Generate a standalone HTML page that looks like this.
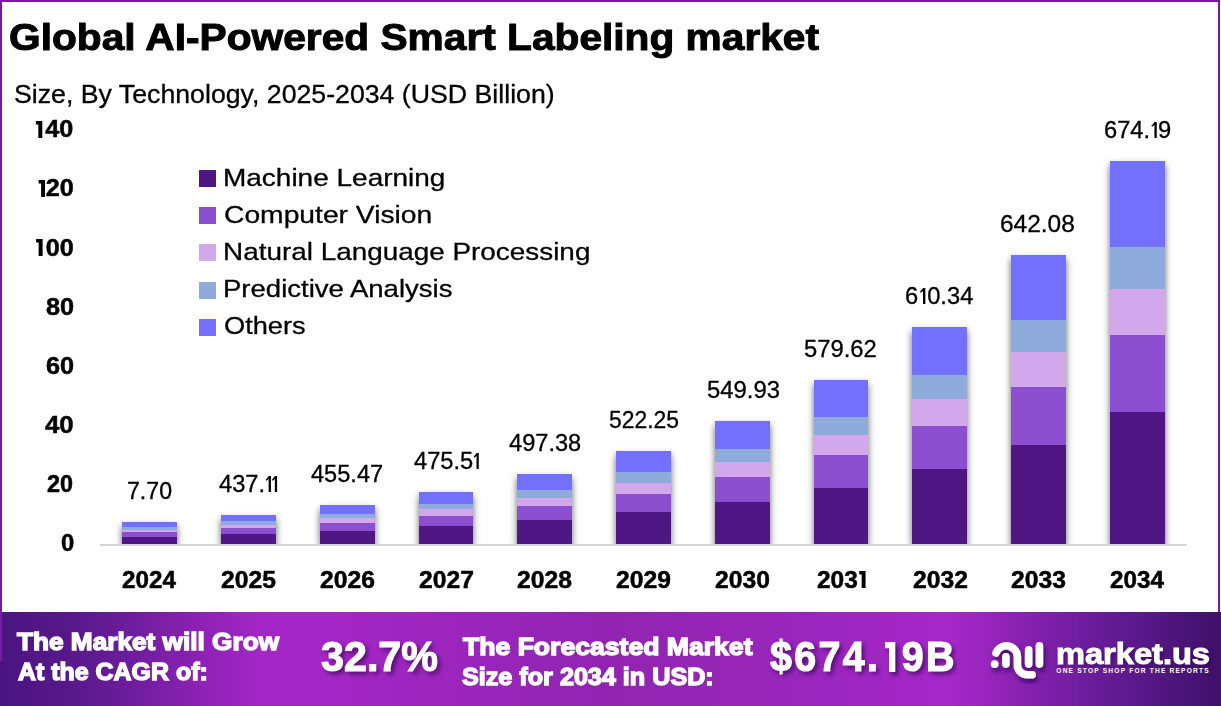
<!DOCTYPE html>
<html><head><meta charset="utf-8">
<style>
html,body{margin:0;padding:0;}
body{width:1221px;height:706px;position:relative;overflow:hidden;background:#fff;font-family:"Liberation Sans",sans-serif;}
#txt div{position:absolute;line-height:1;white-space:nowrap;transform-origin:0 0;}
#txt svg.one{display:inline-block;}
.frame{position:absolute;left:0;top:0;width:1220px;height:706px;box-sizing:border-box;border:2px solid #7A18A2;}
.fl{position:absolute;left:0;top:612px;width:2px;height:49px;background:#7A1AA8;}
.plot{position:absolute;left:0;top:0;width:1221px;height:544px;overflow:hidden;}
.axis{position:absolute;left:100px;top:544px;width:1087px;height:2px;background:#D4D4D4;}
.bar{position:absolute;width:55px;box-shadow:0 4px 7px rgba(0,0,0,0.6);}
.bar i{position:absolute;left:0;right:0;display:block;}
.banner{position:absolute;left:0;top:612px;width:1221px;height:94px;
 background:linear-gradient(90deg,#4A1580 0px,#561888 65px,#6C1D9C 130px,#8A22B2 195px,#A326C6 260px,#A526C6 330px,#9E26C0 400px,#9A25BC 469px,#9525B6 538px,#9024B0 606px,#9425B4 675px,#9826B8 744px,#9A26BE 813px,#A126C4 886px,#A628C8 951px,#8A22B2 1017px,#6E1D9E 1083px,#561886 1148px,#3E1068 1221px);}
#txt .big{text-shadow:3px 3px 5px rgba(40,0,70,0.75);}
#txt .big svg{filter:drop-shadow(3px 3px 2.5px rgba(40,0,70,0.75));}
#txt .logo{text-shadow:2px 3px 4px rgba(40,0,70,0.6);}
</style></head><body>
<div class="frame"></div>
<div class="plot">
<div class="bar" style="left:122px;width:55px;top:522px;height:22px"><i style="top:0px;height:5px;background:#7370FE"></i><i style="top:5px;height:3px;background:#8EABDC"></i><i style="top:8px;height:2px;background:#D3A7EC"></i><i style="top:10px;height:5px;background:#8B4FCF"></i><i style="top:15px;height:7px;background:#4E1784"></i></div><div class="bar" style="left:221px;width:55px;top:515px;height:29px"><i style="top:0px;height:6px;background:#7370FE"></i><i style="top:6px;height:4px;background:#8EABDC"></i><i style="top:10px;height:3px;background:#D3A7EC"></i><i style="top:13px;height:6px;background:#8B4FCF"></i><i style="top:19px;height:10px;background:#4E1784"></i></div><div class="bar" style="left:320px;width:55px;top:505px;height:39px"><i style="top:0px;height:9px;background:#7370FE"></i><i style="top:9px;height:4px;background:#8EABDC"></i><i style="top:13px;height:5px;background:#D3A7EC"></i><i style="top:18px;height:8px;background:#8B4FCF"></i><i style="top:26px;height:13px;background:#4E1784"></i></div><div class="bar" style="left:419px;width:54px;top:492px;height:52px"><i style="top:0px;height:12px;background:#7370FE"></i><i style="top:12px;height:5px;background:#8EABDC"></i><i style="top:17px;height:7px;background:#D3A7EC"></i><i style="top:24px;height:10px;background:#8B4FCF"></i><i style="top:34px;height:18px;background:#4E1784"></i></div><div class="bar" style="left:517px;width:55px;top:474px;height:70px"><i style="top:0px;height:16px;background:#7370FE"></i><i style="top:16px;height:8px;background:#8EABDC"></i><i style="top:24px;height:8px;background:#D3A7EC"></i><i style="top:32px;height:14px;background:#8B4FCF"></i><i style="top:46px;height:24px;background:#4E1784"></i></div><div class="bar" style="left:616px;width:55px;top:451px;height:93px"><i style="top:0px;height:21px;background:#7370FE"></i><i style="top:21px;height:11px;background:#8EABDC"></i><i style="top:32px;height:11px;background:#D3A7EC"></i><i style="top:43px;height:18px;background:#8B4FCF"></i><i style="top:61px;height:32px;background:#4E1784"></i></div><div class="bar" style="left:715px;width:55px;top:421px;height:123px"><i style="top:0px;height:28px;background:#7370FE"></i><i style="top:28px;height:13px;background:#8EABDC"></i><i style="top:41px;height:15px;background:#D3A7EC"></i><i style="top:56px;height:25px;background:#8B4FCF"></i><i style="top:81px;height:42px;background:#4E1784"></i></div><div class="bar" style="left:814px;width:54px;top:380px;height:164px"><i style="top:0px;height:37px;background:#7370FE"></i><i style="top:37px;height:18px;background:#8EABDC"></i><i style="top:55px;height:20px;background:#D3A7EC"></i><i style="top:75px;height:33px;background:#8B4FCF"></i><i style="top:108px;height:56px;background:#4E1784"></i></div><div class="bar" style="left:912px;width:55px;top:327px;height:217px"><i style="top:0px;height:48px;background:#7370FE"></i><i style="top:48px;height:24px;background:#8EABDC"></i><i style="top:72px;height:27px;background:#D3A7EC"></i><i style="top:99px;height:43px;background:#8B4FCF"></i><i style="top:142px;height:75px;background:#4E1784"></i></div><div class="bar" style="left:1011px;width:55px;top:255px;height:289px"><i style="top:0px;height:65px;background:#7370FE"></i><i style="top:65px;height:32px;background:#8EABDC"></i><i style="top:97px;height:35px;background:#D3A7EC"></i><i style="top:132px;height:58px;background:#8B4FCF"></i><i style="top:190px;height:99px;background:#4E1784"></i></div><div class="bar" style="left:1110px;width:55px;top:161px;height:383px"><i style="top:0px;height:86px;background:#7370FE"></i><i style="top:86px;height:42px;background:#8EABDC"></i><i style="top:128px;height:46px;background:#D3A7EC"></i><i style="top:174px;height:77px;background:#8B4FCF"></i><i style="top:251px;height:132px;background:#4E1784"></i></div>
</div>
<div class="axis"></div>
<div style="position:absolute;left:199px;top:170px;width:17px;height:17px;background:#4E1784"></div><div style="position:absolute;left:199px;top:207px;width:17px;height:17px;background:#8B4FCF"></div><div style="position:absolute;left:199px;top:244.2px;width:17px;height:17px;background:#D3A7EC"></div><div style="position:absolute;left:199px;top:282px;width:17px;height:17px;background:#8EABDC"></div><div style="position:absolute;left:199px;top:319.1px;width:17px;height:17px;background:#7370FE"></div>
<div class="banner"></div>
<div class="fl"></div>
<svg style="position:absolute;left:0;top:0" width="1221" height="706">
 <defs><filter id="sh" x="-30%" y="-30%" width="160%" height="160%"><feDropShadow dx="2" dy="4" stdDeviation="2.5" flood-color="#2a0050" flood-opacity="0.7"/></filter></defs>
 <g fill="none" stroke="#fff" stroke-linecap="round" stroke-width="7.6" filter="url(#sh)">
  <path d="M996 653 A11.05 11.05 0 0 1 1017.4 657 L1017.4 665 A9.8 9.8 0 0 0 1027.2 674.8 L1032.1 674.8"/>
  <line x1="1005.9" y1="656.9" x2="1005.9" y2="664.1"/>
  <line x1="1028.65" y1="649.7" x2="1028.65" y2="664.1"/>
  <line x1="1039.4" y1="645.9" x2="1039.4" y2="664.1"/>
  <circle cx="994.6" cy="664.1" r="3.9" fill="#fff" stroke="none"/>
 </g>
</svg>
<div id="txt">
<div style="left:9.46px;top:18.79px;font-size:37.8px;font-weight:bold;color:#000;-webkit-text-stroke:1.0px #000;transform:scaleX(1.0763)">Global AI-Powered Smart Labeling market</div>
<div style="left:14.09px;top:82.03px;font-size:25px;font-weight:normal;color:#000;-webkit-text-stroke:0.3px #000;transform:scaleX(1.0679)">Size, By Technology, 2025-2034 (USD Billion)</div>
<div style="left:61.05px;top:531.13px;font-size:24.0px;font-weight:bold;color:#000;-webkit-text-stroke:0.5px #000;transform:scaleX(0.9926)">0</div>
<div style="left:46.94px;top:472.01px;font-size:24.0px;font-weight:bold;color:#000;-webkit-text-stroke:0.5px #000;transform:scaleX(0.9759)">20</div>
<div style="left:45.47px;top:412.89px;font-size:24.0px;font-weight:bold;color:#000;-webkit-text-stroke:0.5px #000;transform:scaleX(1.0764)">40</div>
<div style="left:46.06px;top:353.77px;font-size:24.0px;font-weight:bold;color:#000;-webkit-text-stroke:0.5px #000;transform:scaleX(1.0541)">60</div>
<div style="left:46.06px;top:294.65px;font-size:24.0px;font-weight:bold;color:#000;-webkit-text-stroke:0.5px #000;transform:scaleX(1.0541)">80</div>
<div style="left:33.41px;top:235.53px;font-size:24.0px;font-weight:bold;color:#000;-webkit-text-stroke:0.5px #000;transform:scaleX(1.0500)"><svg class="one" width="12.15" height="17.01" style="vertical-align:-0.25px;margin-right:0px" fill="#000"><rect x="5.35" y="0" width="3.80" height="17.01"/><polygon points="3.00,0 9.15,0 5.35,3.60 3.00,3.60"/></svg>00</div>
<div style="left:38.31px;top:176.41px;font-size:24.0px;font-weight:bold;color:#000;-webkit-text-stroke:0.5px #000;transform:scaleX(1.0500)"><svg class="one" width="7.39" height="17.01" style="vertical-align:-0.25px;margin-right:0px" fill="#000"><rect x="2.97" y="0" width="3.80" height="17.01"/><polygon points="0.62,0 6.77,0 2.97,3.60 0.62,3.60"/></svg>20</div>
<div style="left:32.91px;top:117.29px;font-size:24.0px;font-weight:bold;color:#000;-webkit-text-stroke:0.5px #000;transform:scaleX(1.0500)"><svg class="one" width="11.58" height="17.01" style="vertical-align:-0.25px;margin-right:0px" fill="#000"><rect x="5.07" y="0" width="3.80" height="17.01"/><polygon points="2.71,0 8.87,0 5.07,3.60 2.71,3.60"/></svg>40</div>
<div style="left:126.85px;top:479.93px;font-size:23.0px;font-weight:normal;color:#000;-webkit-text-stroke:0.3px #000;transform:scaleX(1.0052)">7.70</div>
<div style="left:122.25px;top:567.88px;font-size:24px;font-weight:bold;color:#000;-webkit-text-stroke:0.5px #000;transform:scaleX(1.0084)">2024</div>
<div style="left:219.15px;top:472.93px;font-size:23.0px;font-weight:normal;color:#000;-webkit-text-stroke:0.3px #000;transform:scaleX(1.0300)">437.<svg class="one" width="6.18" height="16.12" style="vertical-align:-0.15px;margin-right:0px" fill="#000"><rect x="3.20" y="0" width="2.25" height="16.12"/><polygon points="3.50,0 4.33,2.03 0.72,5.03 0.72,3.23"/></svg><svg class="one" width="6.18" height="16.12" style="vertical-align:-0.15px;margin-right:0px" fill="#000"><rect x="3.20" y="0" width="2.25" height="16.12"/><polygon points="3.50,0 4.33,2.03 0.72,5.03 0.72,3.23"/></svg></div>
<div style="left:221.06px;top:567.88px;font-size:24px;font-weight:bold;color:#000;-webkit-text-stroke:0.5px #000;transform:scaleX(1.0272)">2025</div>
<div style="left:311.25px;top:462.93px;font-size:23.0px;font-weight:normal;color:#000;-webkit-text-stroke:0.3px #000;transform:scaleX(1.0250)">455.47</div>
<div style="left:319.86px;top:567.88px;font-size:24px;font-weight:bold;color:#000;-webkit-text-stroke:0.5px #000;transform:scaleX(1.0272)">2026</div>
<div style="left:414.35px;top:449.93px;font-size:23.0px;font-weight:normal;color:#000;-webkit-text-stroke:0.3px #000;transform:scaleX(1.0300)">475.5<svg class="one" width="5.18" height="16.12" style="vertical-align:-0.15px;margin-right:0px" fill="#000"><rect x="2.70" y="0" width="2.25" height="16.12"/><polygon points="3.00,0 3.83,2.03 0.22,5.03 0.22,3.23"/></svg></div>
<div style="left:418.66px;top:567.88px;font-size:24px;font-weight:bold;color:#000;-webkit-text-stroke:0.5px #000;transform:scaleX(1.0272)">2027</div>
<div style="left:508.75px;top:431.93px;font-size:23.0px;font-weight:normal;color:#000;-webkit-text-stroke:0.3px #000;transform:scaleX(1.0264)">497.38</div>
<div style="left:517.46px;top:567.88px;font-size:24px;font-weight:bold;color:#000;-webkit-text-stroke:0.5px #000;transform:scaleX(1.0272)">2028</div>
<div style="left:608.55px;top:408.93px;font-size:23.0px;font-weight:normal;color:#000;-webkit-text-stroke:0.3px #000;transform:scaleX(0.9963)">522.25</div>
<div style="left:616.26px;top:567.88px;font-size:24px;font-weight:bold;color:#000;-webkit-text-stroke:0.5px #000;transform:scaleX(1.0272)">2029</div>
<div style="left:706.56px;top:378.93px;font-size:23.0px;font-weight:normal;color:#000;-webkit-text-stroke:0.3px #000;transform:scaleX(1.0378)">549.93</div>
<div style="left:715.06px;top:567.88px;font-size:24px;font-weight:bold;color:#000;-webkit-text-stroke:0.5px #000;transform:scaleX(1.0272)">2030</div>
<div style="left:804.46px;top:337.93px;font-size:23.0px;font-weight:normal;color:#000;-webkit-text-stroke:0.3px #000;transform:scaleX(1.0336)">579.62</div>
<div style="left:816.81px;top:567.88px;font-size:24px;font-weight:bold;color:#000;-webkit-text-stroke:0.5px #000;transform:scaleX(1.0200)">203<svg class="one" width="9.04" height="17.01" style="vertical-align:-0.25px;margin-right:0px" fill="#000"><rect x="3.80" y="0" width="3.80" height="17.01"/><polygon points="1.44,0 7.59,0 3.80,3.60 1.44,3.60"/></svg></div>
<div style="left:905.12px;top:284.93px;font-size:23.0px;font-weight:normal;color:#000;-webkit-text-stroke:0.3px #000;transform:scaleX(1.0300)">6<svg class="one" width="8.76" height="16.12" style="vertical-align:-0.15px;margin-right:0px" fill="#000"><rect x="4.49" y="0" width="2.25" height="16.12"/><polygon points="4.79,0 5.62,2.03 2.01,5.03 2.01,3.23"/></svg>0.34</div>
<div style="left:912.66px;top:567.88px;font-size:24px;font-weight:bold;color:#000;-webkit-text-stroke:0.5px #000;transform:scaleX(1.0272)">2032</div>
<div style="left:1000.40px;top:212.93px;font-size:23.0px;font-weight:normal;color:#000;-webkit-text-stroke:0.3px #000;transform:scaleX(1.0631)">642.08</div>
<div style="left:1011.46px;top:567.88px;font-size:24px;font-weight:bold;color:#000;-webkit-text-stroke:0.5px #000;transform:scaleX(1.0272)">2033</div>
<div style="left:1103.72px;top:118.93px;font-size:23.0px;font-weight:normal;color:#000;-webkit-text-stroke:0.3px #000;transform:scaleX(1.0300)">674.<svg class="one" width="7.72" height="16.12" style="vertical-align:-0.15px;margin-right:0px" fill="#000"><rect x="3.97" y="0" width="2.25" height="16.12"/><polygon points="4.27,0 5.10,2.03 1.49,5.03 1.49,3.23"/></svg>9</div>
<div style="left:1110.25px;top:567.88px;font-size:24px;font-weight:bold;color:#000;-webkit-text-stroke:0.5px #000;transform:scaleX(1.0084)">2034</div>
<div style="left:223.20px;top:166.17px;font-size:24.6px;font-weight:normal;color:#000;-webkit-text-stroke:0.3px #000;transform:scaleX(1.1375)">Machine Learning</div>
<div style="left:224.32px;top:203.22px;font-size:24.6px;font-weight:normal;color:#000;-webkit-text-stroke:0.3px #000;transform:scaleX(1.1485)">Computer Vision</div>
<div style="left:223.20px;top:240.27px;font-size:24.6px;font-weight:normal;color:#000;-webkit-text-stroke:0.3px #000;transform:scaleX(1.1338)">Natural Language Processing</div>
<div style="left:223.23px;top:277.32px;font-size:24.6px;font-weight:normal;color:#000;-webkit-text-stroke:0.3px #000;transform:scaleX(1.1189)">Predictive Analysis</div>
<div style="left:224.36px;top:314.37px;font-size:24.6px;font-weight:normal;color:#000;-webkit-text-stroke:0.3px #000;transform:scaleX(1.1056)">Others</div>
<div style="left:17.25px;top:629.61px;font-size:24.5px;font-weight:bold;color:#fff;-webkit-text-stroke:1.4px #fff;transform:scaleX(1.0692)">The Market will Grow</div>
<div style="left:17.71px;top:659.76px;font-size:24.5px;font-weight:bold;color:#fff;-webkit-text-stroke:1.4px #fff;transform:scaleX(1.0179)">At the CAGR of:</div>
<div class="big" style="left:320.82px;top:634.84px;font-size:43.3px;font-weight:bold;color:#fff;-webkit-text-stroke:1.2px #fff;transform:scaleX(0.9529)">32.7%</div>
<div style="left:462.57px;top:635.23px;font-size:24.3px;font-weight:bold;color:#fff;-webkit-text-stroke:1.4px #fff;transform:scaleX(1.0938)">The Forecasted Market</div>
<div style="left:461.72px;top:664.83px;font-size:24.3px;font-weight:bold;color:#fff;-webkit-text-stroke:1.4px #fff;transform:scaleX(1.0357)">Size for 2034 in USD:</div>
<div class="big" style="left:770.06px;top:636.40px;font-size:42.4px;font-weight:bold;color:#fff;-webkit-text-stroke:1.2px #fff;letter-spacing:2.5px;transform:scaleX(0.9300)">$674.<svg class="one" width="20.49" height="30.37" style="vertical-align:-0.60px;margin-right:2.5px" fill="#fff"><rect x="8.95" y="0" width="6.80" height="30.37"/><polygon points="4.73,0 15.76,0 8.95,6.36 4.73,6.36"/></svg>9B</div>
<div class="logo" style="left:1055.74px;top:639.95px;font-size:29px;font-weight:bold;color:#fff;-webkit-text-stroke:1.0px #fff;transform:scaleX(1.1237)">market.us</div>
<div style="left:1056.30px;top:667.81px;font-size:6.6px;font-weight:bold;color:#fff;letter-spacing:1.2px;transform:scaleX(1.0000)">ONE STOP SHOP FOR THE REPORTS</div>
</div>
</body></html>
